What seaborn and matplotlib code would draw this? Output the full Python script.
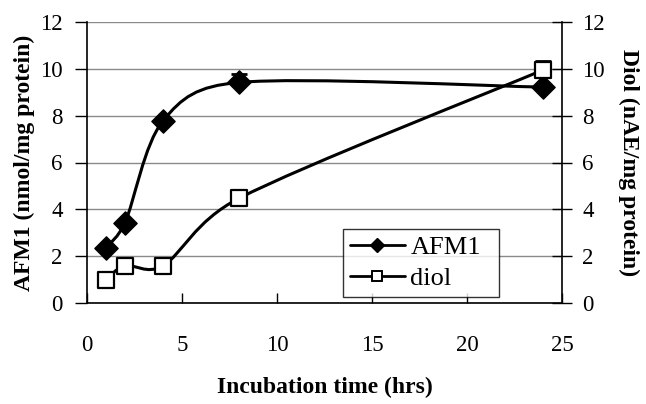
import numpy as np
import pandas as pd
import matplotlib
matplotlib.use("Agg")
import matplotlib.pyplot as plt
from matplotlib.path import Path
from matplotlib.patches import PathPatch
from matplotlib.lines import Line2D
import seaborn as sns

# ---- data ----
time_hrs = [1, 2, 4, 8, 24]
afm1 = [2.34, 3.43, 7.78, 9.42, 9.22]
afm1_err = [0.0, 0.0, 0.0, 0.38, 0.0]
diol = [0.98, 1.59, 1.59, 4.47, 9.95]
diol_err = [0.1, 0.1, 0.1, 0.1, 0.4]
x_ticks = [0, 5, 10, 15, 20, 25]
y_ticks = [0, 2, 4, 6, 8, 10, 12]

sns.set_theme(style="white")
plt.rcParams['font.family'] = ['Liberation Serif', 'DejaVu Serif']
plt.rcParams['text.color'] = 'black'
plt.rcParams['axes.labelcolor'] = 'black'
plt.rcParams['xtick.color'] = 'black'
plt.rcParams['ytick.color'] = 'black'

fig = plt.figure(figsize=(6.46, 4.04), dpi=100)
ax = fig.add_axes([87/646, 1-303/404, (562-87)/646, (303-22)/404])
ax.set_xlim(0, 25)
ax.set_ylim(0, 12)

df = pd.DataFrame({"t": time_hrs, "AFM1": afm1, "diol": diol})


def smooth_path(xs, ys):
    # Excel-like smoothed line: cubic Bezier per segment, computed in
    # display space with control arms limited to half of each segment.
    pts = ax.transData.transform(np.column_stack([xs, ys]).astype(float))
    n = len(pts)
    verts = [pts[0]]
    codes = [Path.MOVETO]

    def arm(i, forward):
        p_prev = pts[i - 1] if i > 0 else pts[i]
        p_next = pts[i + 1] if i + 1 < n else pts[i]
        t = (p_next - p_prev) / 6.0
        seg = (pts[i + 1] - pts[i]) if forward else (pts[i] - pts[i - 1])
        lim = 0.5 * np.linalg.norm(seg)
        L = np.linalg.norm(t)
        if L > lim and L > 0:
            t = t * lim / L
        return t

    for i in range(n - 1):
        c1 = pts[i] + arm(i, True)
        c2 = pts[i + 1] - arm(i + 1, False)
        verts += [c1, c2, pts[i + 1]]
        codes += [Path.CURVE4] * 3
    verts = ax.transData.inverted().transform(np.array(verts))
    return Path(verts, codes)


for col in ["AFM1", "diol"]:
    ax.add_patch(PathPatch(smooth_path(df["t"], df[col]), fill=False,
                           edgecolor="black", lw=2.2, zorder=3,
                           capstyle="round", joinstyle="round"))

ax.errorbar(time_hrs, afm1, yerr=[np.zeros(5), afm1_err], fmt="none",
            ecolor="black", elinewidth=1.5, capsize=6, capthick=2, zorder=2)
ax.errorbar(time_hrs, diol, yerr=[np.zeros(5), diol_err], fmt="none",
            ecolor="black", elinewidth=1.5, capsize=6, capthick=2, zorder=2)

sns.scatterplot(data=df, x="t", y="AFM1", ax=ax, marker="D", s=140,
                color="black", edgecolor="black", linewidth=1, zorder=5,
                legend=False)
sns.scatterplot(data=df, x="t", y="diol", ax=ax, marker="s", s=125,
                facecolor="white", edgecolor="black", linewidth=1.6,
                zorder=5, legend=False)

ax.set_xlim(0, 25)
ax.set_ylim(0, 12)
ax.set_xticks(x_ticks)
ax.set_yticks(y_ticks)
ax.yaxis.grid(True, color="#8a8a8a", lw=1)
ax.xaxis.grid(False)
for s in ["left", "bottom", "right"]:
    ax.spines[s].set_visible(True)
    ax.spines[s].set_color("black")
    ax.spines[s].set_linewidth(1.2)
ax.spines["top"].set_visible(False)

ax.tick_params(axis="y", direction="out", length=9, width=1, colors="black",
               labelcolor="black", labelsize=16.5, pad=8.5)
ax.tick_params(axis="x", direction="in", length=7, width=1, colors="black",
               labelcolor="black", labelsize=16.5, pad=23, bottom=True)
ax.set_xlabel("Incubation time (hrs)", fontsize=17, fontweight="bold",
              labelpad=15, color="black")
ax.set_ylabel("AFM1 (nmol/mg protein)", fontsize=17, fontweight="bold",
              labelpad=4, color="black")

ax2 = ax.twinx()
ax2.set_ylim(0, 12)
ax2.set_yticks(y_ticks)
ax2.tick_params(axis="y", direction="inout", length=14, width=1,
                colors="black", labelcolor="black", labelsize=16.5, pad=7.5,
                right=True)
for s in ["left", "bottom", "right", "top"]:
    ax2.spines[s].set_visible(False)
ax2.set_ylabel("Diol (nAE/mg protein)", fontsize=17, fontweight="bold",
               rotation=270, labelpad=25, color="black")
ax2.grid(False)

handles = [
    Line2D([], [], color="black", lw=2.0, marker="D", markersize=7.5,
           markerfacecolor="black", label="AFM1"),
    Line2D([], [], color="black", lw=2.0, marker="s", markersize=7.5,
           markerfacecolor="white", markeredgewidth=1.4, label="diol"),
]
leg = ax.legend(handles=handles, loc="lower left",
                bbox_to_anchor=((343-87)/475, (303-297)/281,
                                (499-343)/475, (297-212)/281),
                mode="expand", fontsize=19, frameon=True, fancybox=False,
                edgecolor="black", handlelength=2.1, handletextpad=0.2,
                borderpad=0.25, labelspacing=0.3, borderaxespad=0)
leg.get_frame().set_linewidth(1)
leg.set_zorder(10)
for t in leg.get_texts():
    t.set_color("black")

fig.savefig("out.png", dpi=100)
